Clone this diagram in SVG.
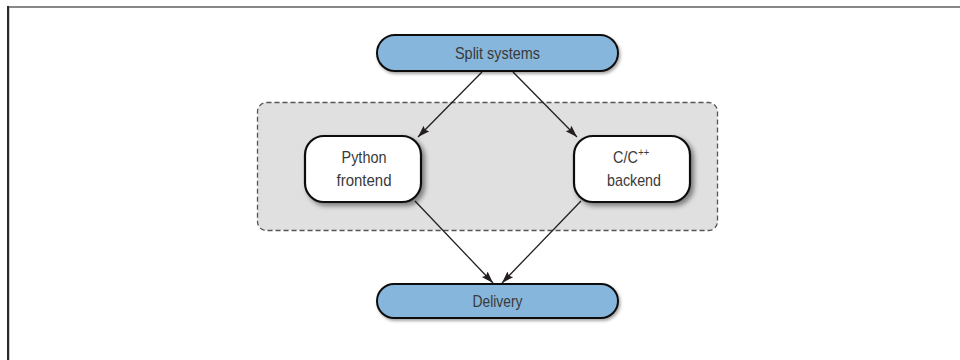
<svg xmlns="http://www.w3.org/2000/svg" width="960" height="360" viewBox="0 0 960 360">
  <defs>
    <filter id="shadow" x="-20%" y="-20%" width="150%" height="160%">
      <feDropShadow dx="3" dy="3" stdDeviation="2.5" flood-color="#000" flood-opacity="0.45"/>
    </filter>
    <filter id="pshadow" x="-10%" y="-20%" width="130%" height="160%">
      <feDropShadow dx="1.5" dy="2" stdDeviation="1.5" flood-color="#000" flood-opacity="0.35"/>
    </filter>
    <marker id="arrow" viewBox="0 0 12 10" refX="12" refY="5" markerWidth="12" markerHeight="10" markerUnits="userSpaceOnUse" orient="auto">
      <path d="M0,1 L12,5 L0,9 L2,5 Z" fill="#231f20"/>
    </marker>
  </defs>
  <style>
    .pill { fill: #86b6db; stroke: #111; stroke-width: 2; filter: url(#pshadow); }
    .box { fill: #fff; stroke: #111; stroke-width: 2.2; filter: url(#shadow); }
    .group { fill: #e0e0e0; stroke: #555; stroke-width: 1.3; stroke-dasharray: 5 3; }
    .lbl { font-family: "Liberation Sans", "DejaVu Sans", sans-serif; font-size: 17px; fill: #3a3a3a; text-anchor: middle; }
    .edge { stroke: #231f20; stroke-width: 1.3; fill: none; marker-end: url(#arrow); }
  </style>
  <rect x="0" y="0" width="960" height="360" fill="#fff"/>
  <line x1="8" y1="7" x2="960" y2="7" stroke="#888" stroke-width="2"/>
  <line x1="8" y1="6" x2="8" y2="360" stroke="#2a2a2a" stroke-width="2"/>
  <line x1="9.5" y1="8" x2="9.5" y2="360" stroke="#ccc" stroke-width="1"/>

  <g id="subsystems-group">
    <rect class="group" x="257.5" y="102.5" width="460" height="128" rx="9"/>
  </g>

  <g id="connectors">
    <line class="edge" x1="482" y1="72" x2="418" y2="137"/>
    <line class="edge" x1="513" y1="72" x2="577" y2="137"/>
    <line class="edge" x1="415" y1="201" x2="493" y2="283"/>
    <line class="edge" x1="581" y1="201" x2="502" y2="283"/>
  </g>

  <g id="split-systems">
    <rect class="pill" x="377" y="35" width="241" height="36" rx="18"/>
    <text class="lbl" x="497.5" y="59" textLength="85" lengthAdjust="spacingAndGlyphs">Split systems</text>
  </g>

  <g id="python-frontend">
    <rect class="box" x="305" y="136" width="116" height="66" rx="19"/>
    <text class="lbl" x="364" y="163" textLength="45" lengthAdjust="spacingAndGlyphs">Python</text>
    <text class="lbl" x="364" y="186" textLength="55" lengthAdjust="spacingAndGlyphs">frontend</text>
  </g>

  <g id="cpp-backend">
    <rect class="box" x="574" y="136" width="116" height="66" rx="19"/>
    <text class="lbl" x="0" y="0" transform="translate(613,163) scale(0.85,1)" style="text-anchor:start">C/C<tspan dx="0.5" dy="-7" style="font-size:11px">++</tspan></text>
    <text class="lbl" x="634" y="186" textLength="54" lengthAdjust="spacingAndGlyphs">backend</text>
  </g>

  <g id="delivery">
    <rect class="pill" x="377" y="284" width="241" height="34" rx="17"/>
    <text class="lbl" x="497.5" y="307" textLength="50" lengthAdjust="spacingAndGlyphs">Delivery</text>
  </g>
</svg>
